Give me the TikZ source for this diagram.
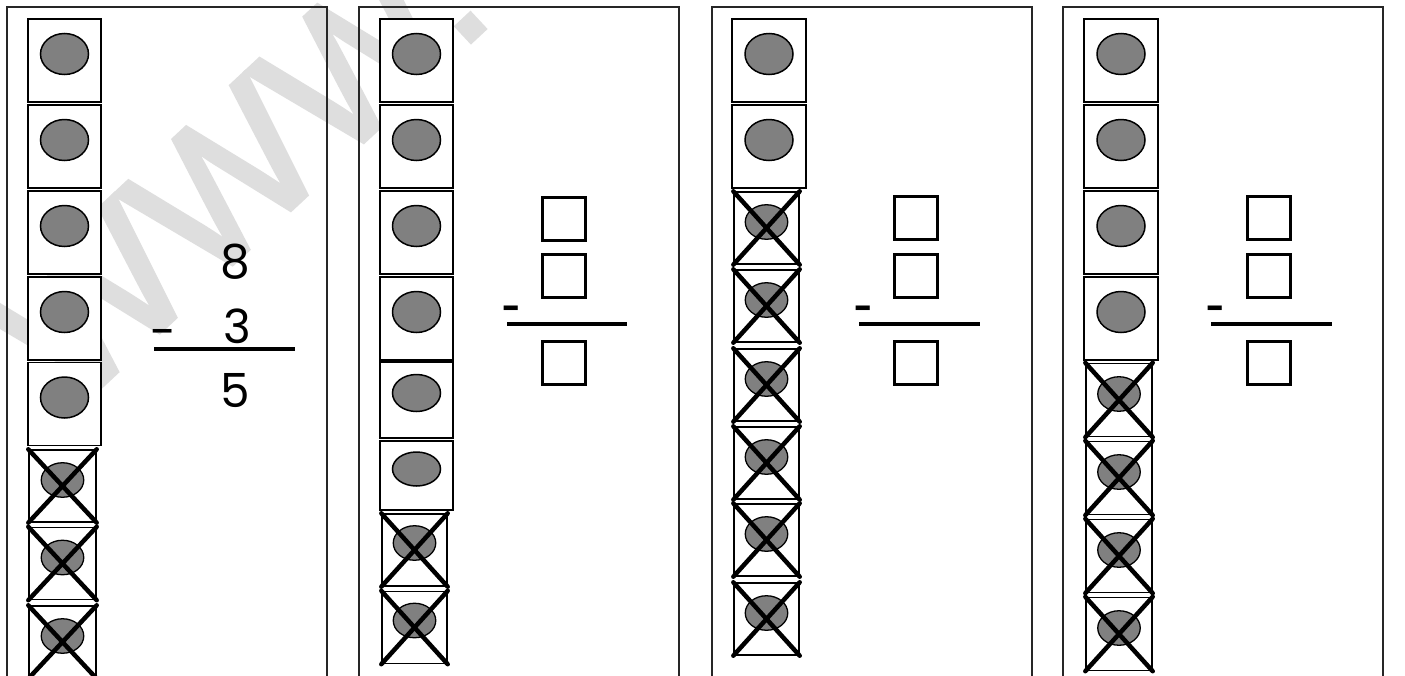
\documentclass[tikz,border=0pt]{standalone}
\usepackage{fontspec}
\setmainfont{Poppins}
\newfontfamily\wmfont[FakeBold=2.5]{Liberation Sans}
\usetikzlibrary{shapes.geometric}
\begin{document}
\begin{tikzpicture}[x=1pt,y=-1pt,
  panel/.style={draw=black!85, line width=1.8pt},
  ubox/.style={draw, line width=1.8pt, fill=white, rectangle, inner sep=0pt, minimum width=73pt, minimum height=83pt},
  xbox/.style={draw, line width=1.4pt, fill=white, rectangle, inner sep=0pt, minimum width=66pt, minimum height=72pt},
  udot/.style={draw, line width=1.5pt, fill=black!50, ellipse, inner sep=0pt, minimum width=48pt, minimum height=41pt},
  xdot/.style={draw, line width=1.3pt, fill=black!50, ellipse, inner sep=0pt, minimum width=42.5pt, minimum height=34.5pt},
  xline/.style={line width=4.5pt, line cap=round},
  ans/.style={draw, line width=3pt, rectangle, inner sep=0pt, minimum size=43pt},
  rule/.style={line width=3.2pt},
  digit/.style={anchor=base, inner sep=0pt, font=\fontsize{47}{50}\selectfont},
  smalldash/.style={anchor=base, inner sep=0pt, font=\fontsize{32}{34}\selectfont\bfseries},
  wm/.style={anchor=base east, rotate=43, inner sep=0pt, text=black!13, font=\wmfont\fontsize{190}{190}\selectfont}
]
\useasboundingbox (0,0) rectangle (1405,675);
\fill[white] (0,0) rectangle (1405,675);
\clip (0,0) rectangle (1405,675);

% watermark
\node[wm] (wmark) at (497,17) {WWW.};

% panel frames
\draw[panel] (7,690) -- (7,7) -- (327,7) -- (327,690);
\draw[panel] (359,690) -- (359,7) -- (679,7) -- (679,690);
\draw[panel] (712,690) -- (712,7) -- (1032,7) -- (1032,690);
\draw[panel] (1063,690) -- (1063,7) -- (1383,7) -- (1383,690);

% ---------- panel 1 ----------
\foreach \y [count=\i] in {60.5,146.5,232.5,318.5,404} {
  \node[ubox] (p1u\i) at (64.5,\y) {};
  \node[udot] (p1ud\i) at (64.5,\y-6.5) {};
}
\foreach \y [count=\i] in {486,563.5,642} {
  \node[xbox, minimum width=67pt] (p1x\i) at (62.5,\y) {};
  \node[xdot] (p1xd\i) at (62.5,\y-6) {};
  \draw[xline] (p1x\i.north west) -- (p1x\i.south east);
  \draw[xline] (p1x\i.north east) -- (p1x\i.south west);
}
\node[digit] (n8) at (235.5,278) {8};
\node[digit] (nminus) at (163,348) {-};
\node[digit] (n3) at (237.5,343) {3};
\draw[rule] (154,349) -- (295,349);
\node[digit] (n5) at (235.5,407) {5};

% ---------- panel 2 ----------
\foreach \y [count=\i] in {60.5,146.5,232.5,318.5} {
  \node[ubox] (p2u\i) at (416.5,\y) {};
  \node[udot] (p2ud\i) at (416.5,\y-6.5) {};
}
\node[ubox, minimum height=76pt] (p2u5) at (416.5,400) {};
\node[udot, minimum height=37pt] (p2ud5) at (416.5,393) {};
\node[ubox, minimum height=69pt] (p2u6) at (416.5,475.5) {};
\node[udot, minimum height=34pt] (p2ud6) at (416.5,469) {};
\foreach \y [count=\i] in {550,627.5} {
  \node[xbox, minimum width=65pt] (p2x\i) at (414.5,\y) {};
  \node[xdot] (p2xd\i) at (414.5,\y-7) {};
  \draw[xline] (p2x\i.north west) -- (p2x\i.south east);
  \draw[xline] (p2x\i.north east) -- (p2x\i.south west);
}
\node[ans] (p2s1) at (564,218.5) {};
\node[ans] (p2s2) at (564,275.5) {};
\node[smalldash] (p2m) at (512,319) {-};
\draw[rule] (507,324) -- (627,324);
\node[ans] (p2s3) at (564,362.5) {};

% ---------- panel 3 ----------
\foreach \y [count=\i] in {60.5,146.5} {
  \node[ubox, minimum width=74pt] (p3u\i) at (769,\y) {};
  \node[udot] (p3ud\i) at (769,\y-6.5) {};
}
\foreach \y [count=\i] in {228,306,385,463,540,619} {
  \node[xbox, minimum width=65pt] (p3x\i) at (766.5,\y) {};
  \node[xdot] (p3xd\i) at (766.5,\y-6) {};
  \draw[xline] (p3x\i.north west) -- (p3x\i.south east);
  \draw[xline] (p3x\i.north east) -- (p3x\i.south west);
}
\node[ans] (p3s1) at (916,218) {};
\node[ans] (p3s2) at (916,275.5) {};
\node[smalldash] (p3m) at (864,319) {-};
\draw[rule] (859,324) -- (980,324);
\node[ans] (p3s3) at (916,362.5) {};

% ---------- panel 4 ----------
\foreach \y [count=\i] in {60.5,146.5,232.5,318.5} {
  \node[ubox, minimum width=74pt] (p4u\i) at (1121,\y) {};
  \node[udot] (p4ud\i) at (1121,\y-6.5) {};
}
\foreach \y [count=\i] in {400,478,556,634} {
  \node[xbox, minimum height=73pt] (p4x\i) at (1119,\y) {};
  \node[xdot] (p4xd\i) at (1119,\y-6) {};
  \draw[xline] (p4x\i.north west) -- (p4x\i.south east);
  \draw[xline] (p4x\i.north east) -- (p4x\i.south west);
}
\node[ans] (p4s1) at (1269,218) {};
\node[ans] (p4s2) at (1269,275.5) {};
\node[smalldash] (p4m) at (1216,319) {-};
\draw[rule] (1211,324) -- (1332,324);
\node[ans] (p4s3) at (1269,362.5) {};
\end{tikzpicture}
\end{document}
